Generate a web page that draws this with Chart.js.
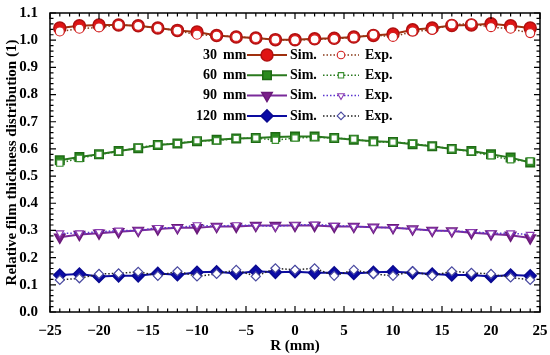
<!DOCTYPE html>
<html>
<head>
<meta charset="utf-8">
<script src="https://cdn.jsdelivr.net/npm/chart.js@4.4.1/dist/chart.umd.min.js"></script>
<style>
  html,body{margin:0;padding:0;background:#fff;}
  #wrap{width:550px;height:355px;}
</style>
</head>
<body>
<div id="wrap"><canvas id="chart" width="550" height="355"></canvas></div>
<script>
const radius=[-24,-22,-20,-18,-16,-14,-12,-10,-8,-6,-4,-2,0,2,4,6,8,10,12,14,16,18,20,22,24];
const groups=["30","60","90","120"];

const sim30=[1.045,1.053,1.056,1.056,1.053,1.045,1.036,1.03,1.017,1.012,1.008,1.002,1.002,1.005,1.007,1.012,1.017,1.023,1.038,1.045,1.054,1.056,1.06,1.053,1.045];
const exp30=[1.032,1.042,1.047,1.056,1.053,1.045,1.035,1.02,1.017,1.012,1.008,1.002,1.0,1.003,1.005,1.01,1.02,1.012,1.032,1.038,1.058,1.06,1.048,1.042,1.026];
const sim60=[0.558,0.57,0.58,0.592,0.602,0.614,0.62,0.628,0.634,0.638,0.64,0.644,0.646,0.646,0.64,0.634,0.628,0.625,0.617,0.61,0.6,0.592,0.58,0.568,0.55];
const exp60=[0.548,0.565,0.58,0.59,0.605,0.615,0.62,0.63,0.63,0.638,0.64,0.632,0.64,0.643,0.64,0.636,0.625,0.625,0.62,0.61,0.6,0.59,0.575,0.56,0.555];
const sim90=[0.275,0.285,0.29,0.295,0.3,0.305,0.31,0.31,0.315,0.315,0.318,0.318,0.318,0.318,0.315,0.315,0.312,0.31,0.305,0.3,0.298,0.292,0.287,0.282,0.272];
const exp90=[0.29,0.29,0.295,0.3,0.3,0.31,0.31,0.32,0.315,0.32,0.318,0.315,0.32,0.322,0.318,0.315,0.312,0.31,0.305,0.3,0.298,0.295,0.29,0.29,0.285];
const sim120=[0.136,0.14,0.131,0.133,0.133,0.142,0.137,0.146,0.148,0.142,0.15,0.146,0.148,0.144,0.144,0.142,0.146,0.148,0.144,0.14,0.136,0.136,0.131,0.136,0.133];
const exp120=[0.118,0.124,0.14,0.142,0.148,0.133,0.15,0.131,0.14,0.155,0.131,0.161,0.155,0.161,0.133,0.155,0.14,0.133,0.15,0.133,0.15,0.144,0.14,0.127,0.118];

const yTicks=[0,0.1,0.2,0.3,0.4,0.5,0.6,0.7,0.8,0.9,1.0,1.1];
const xTicks=[-25,-20,-15,-10,-5,0,5,10,15,20,25];

const FONT="'Liberation Serif','Times New Roman',serif";

function pts(vals){
    return vals.map((v,i)=>({x:radius[i],y:v}));
}

function simSet(label,vals,line,fill,edge,style,rot){
    return {label:label+" mm Sim.",data:pts(vals),borderColor:line,borderWidth:2,
        pointStyle:style,pointRotation:rot||0,pointRadius:6,pointBackgroundColor:fill,
        pointBorderColor:edge,pointBorderWidth:1.5,fill:false,tension:0};
}
function expSet(label,vals,line,edge,style,rot){
    return {label:label+" mm Exp.",data:pts(vals),borderColor:line,borderWidth:1.5,borderDash:[1.5,2],
        pointStyle:style,pointRotation:rot||0,pointRadius:4.5,pointBackgroundColor:"#fff",
        pointBorderColor:edge,pointBorderWidth:1.2,fill:false,tension:0};
}

const datasets=[
    expSet(groups[0],exp30,"#8a3a1a","#d42020","circle"),
    expSet(groups[1],exp60,"#2a7a20","#3a8f30","rect"),
    expSet(groups[2],exp90,"#5a35d0","#8a3ab0","triangle",180),
    expSet(groups[3],exp120,"#222","#4a4aa0","rectRot"),
    simSet(groups[0],sim30,"#a0300e","#e01414","#b01010","circle"),
    simSet(groups[1],sim60,"#2a7a1e","#2a8a1e","#1e6a14","rect"),
    simSet(groups[2],sim90,"#7a2a9a","#7a1f8a","#6a1a7a","triangle",180),
    simSet(groups[3],sim120,"#0c0ca0","#0c0ca8","#0a0a90","rectRot")
];

// frame with inward major and minor ticks on all four sides
const framePlugin={
    id:"frame",
    afterDraw(chart){
        const {ctx,chartArea:a,scales:{x,y}}=chart;
        ctx.save();
        ctx.strokeStyle="#000";
        ctx.lineWidth=1.5;
        ctx.strokeRect(a.left,a.top,a.right-a.left,a.bottom-a.top);
        ctx.lineWidth=1.2;
        ctx.beginPath();
        for(let v=-25;v<=25;v++){
            const px=x.getPixelForValue(v);
            const len=v%5===0?6:3.5;
            ctx.moveTo(px,a.bottom);ctx.lineTo(px,a.bottom-len);
            ctx.moveTo(px,a.top);ctx.lineTo(px,a.top+len);
        }
        for(let k=0;k<=55;k++){
            const py=y.getPixelForValue(k*0.02);
            const len=k%5===0?6:3.5;
            ctx.moveTo(a.left,py);ctx.lineTo(a.left+len,py);
            ctx.moveTo(a.right,py);ctx.lineTo(a.right-len,py);
        }
        ctx.stroke();
        ctx.restore();
    }
};

// legend block: "30 mm —●— Sim.  ···○··· Exp."
const legendPlugin={
    id:"tableLegend",
    afterDraw(chart){
        const ctx=chart.ctx;
        ctx.save();
        ctx.font="bold 14px "+FONT;
        ctx.fillStyle="#000";
        ctx.textBaseline="middle";
        groups.forEach((g,i)=>{
            const yy=55+i*20.3;
            const sim=chart.data.datasets[4+i];
            const exp=chart.data.datasets[i];
            ctx.textAlign="right";
            ctx.fillText(g,217,yy);
            ctx.textAlign="left";
            ctx.fillText("mm",223,yy);
            ctx.fillText("Sim.",290,yy);
            ctx.fillText("Exp.",365,yy);

            ctx.strokeStyle=sim.borderColor;
            ctx.lineWidth=2;
            ctx.setLineDash([]);
            ctx.beginPath();ctx.moveTo(247,yy);ctx.lineTo(287,yy);ctx.stroke();
            ctx.fillStyle=sim.pointBackgroundColor;
            ctx.strokeStyle=sim.pointBorderColor;
            ctx.lineWidth=sim.pointBorderWidth;
            Chart.helpers.drawPoint(ctx,{pointStyle:sim.pointStyle,rotation:sim.pointRotation,radius:6,borderWidth:1.5},267,yy);

            ctx.strokeStyle=exp.borderColor;
            ctx.lineWidth=1.5;
            ctx.setLineDash([1.5,2]);
            ctx.beginPath();ctx.moveTo(323,yy);ctx.lineTo(359,yy);ctx.stroke();
            ctx.setLineDash([]);
            ctx.fillStyle="#fff";
            ctx.strokeStyle=exp.pointBorderColor;
            ctx.lineWidth=1.1;
            Chart.helpers.drawPoint(ctx,{pointStyle:exp.pointStyle,rotation:exp.pointRotation,radius:3.8,borderWidth:1.1},341,yy);
            ctx.fillStyle="#000";
        });
        ctx.restore();
    }
};

new Chart(document.getElementById("chart"),{
    type:"line",
    data:{datasets},
    options:{
        responsive:false,
        animation:false,
        layout:{padding:{top:8,right:10,left:3,bottom:0}},
        plugins:{legend:{display:false},tooltip:{enabled:false}},
        scales:{
            x:{
                type:"linear",min:-25,max:25,
                afterBuildTicks:s=>{s.ticks=xTicks.map(v=>({value:v}));},
                afterFit:s=>{s.height=43;},
                grid:{display:false},border:{display:false},
                ticks:{padding:2,color:"#000",font:{family:FONT,size:15,weight:"bold"},
                    callback:v=>String(v).replace("-","\u2212")},
                title:{display:true,text:"R (mm)",color:"#000",padding:{top:0,bottom:0},
                    font:{family:FONT,size:15,weight:"bold"}}
            },
            y:{
                type:"linear",min:0,max:1.1,
                afterBuildTicks:s=>{s.ticks=yTicks.map(v=>({value:v}));},
                afterFit:s=>{s.width=47;},
                grid:{display:false},border:{display:false},
                ticks:{padding:4,color:"#000",font:{family:FONT,size:15,weight:"bold"},
                    callback:v=>Number(v).toFixed(1)},
                title:{display:true,text:"Relative film thickness distribution (1)",color:"#000",
                    padding:{top:0,bottom:0},font:{family:FONT,size:15,weight:"bold"}}
            }
        }
    },
    plugins:[framePlugin,legendPlugin]
});
</script>
</body>
</html>
